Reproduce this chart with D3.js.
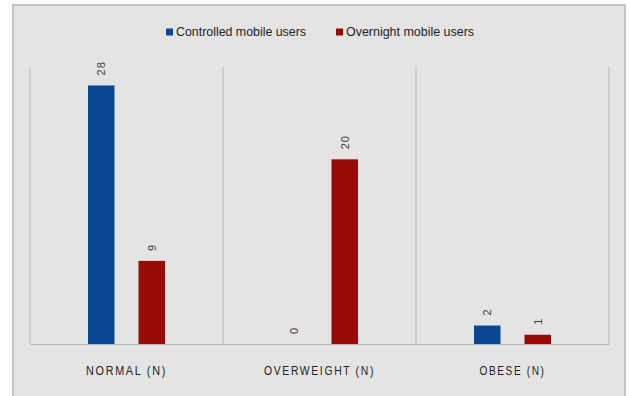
<!DOCTYPE html>
<html>
<head>
<meta charset="utf-8">
<script src="https://cdn.jsdelivr.net/npm/d3@7"></script>
<style>
  html, body { margin: 0; padding: 0; background: #ffffff; }
  svg { display: block; }
</style>
</head>
<body>
<svg id="chart" width="630" height="396"></svg>
<script>
// Weight categories and mobile-use groups
const categories = ["NORMAL (N)", "OVERWEIGHT (N)", "OBESE (N)"];
const seriesNames = ["Controlled mobile users", "Overnight mobile users"];
const controlled = [28, 0, 2];
const overnight = [9, 20, 1];
const seriesColors = ["#0b4790", "#980a05"];

const svg = d3.select("#chart");
const font = "'Liberation Sans Narrow', 'Liberation Sans', Arial, sans-serif";

// condensed look: squeeze text to a set width
const catWidths = { "NORMAL (N)": 81, "OVERWEIGHT (N)": 111, "OBESE (N)": 66 };
const legendWidths = [130, 128];

// panel frame
svg.append("rect")
  .attr("x", 13).attr("y", 5)
  .attr("width", 612).attr("height", 400)
  .attr("fill", "#e4e4e4")
  .attr("stroke", "#b4b4b4").attr("stroke-width", 1.5);

const plot = { left: 30, right: 609, top: 67, bottom: 344 };

const x0 = d3.scaleBand().domain(categories)
  .range([plot.left, plot.right]).paddingInner(0).paddingOuter(0);
const x1 = d3.scaleBand().domain(seriesNames)
  .range([0, 77]).paddingInner(0.475);
const y = d3.scaleLinear().domain([0, 30]).range([plot.bottom, plot.top]);

const rows = categories.map((c, i) => ({
  cat: c,
  vals: [
    { name: seriesNames[0], v: controlled[i], color: seriesColors[0] },
    { name: seriesNames[1], v: overnight[i], color: seriesColors[1] }
  ]
}));

// left axis line and category separators
const sepX = [plot.left, ...categories.map(c => x0(c) + x0.bandwidth())];
svg.append("g").selectAll("line").data(sepX).join("line")
  .attr("x1", d => d).attr("x2", d => d)
  .attr("y1", plot.top).attr("y2", plot.bottom)
  .attr("stroke", "#c2c2c2").attr("stroke-width", 1.2);

// baseline via bottom axis
const xAxis = d3.axisBottom(x0).tickSize(0).tickPadding(0);
const gx = svg.append("g").attr("transform", `translate(0,${plot.bottom})`).call(xAxis);
gx.select(".domain").attr("stroke", "#b8b8b8").attr("stroke-width", 1.2);
gx.selectAll(".tick text")
  .attr("y", 31)
  .attr("dy", 0)
  .attr("font-family", font)
  .attr("font-size", 12.5)
  .attr("letter-spacing", "2px")
  .attr("textLength", d => catWidths[d])
  .attr("lengthAdjust", "spacingAndGlyphs")
  .attr("fill", "#222");

// bars
const groups = svg.append("g").selectAll("g").data(rows).join("g")
  .attr("transform", d => `translate(${x0(d.cat) + (x0.bandwidth() - 77) / 2},0)`);

groups.selectAll("rect").data(d => d.vals).join("rect")
  .attr("x", d => x1(d.name))
  .attr("width", x1.bandwidth())
  .attr("y", d => y(d.v))
  .attr("height", d => y(0) - y(d.v))
  .attr("fill", d => d.color);

// rotated value labels
groups.selectAll("text").data(d => d.vals).join("text")
  .attr("transform", d => `translate(${x1(d.name) + x1.bandwidth() / 2 + 4},${y(d.v) - 10}) rotate(-90)`)
  .attr("text-anchor", "start")
  .attr("font-family", font)
  .attr("font-size", 11)
  .attr("letter-spacing", "1px")
  .attr("fill", "#404040")
  .text(d => d.v);

// legend
const legendX = [166, 336];
const legend = svg.append("g").selectAll("g").data(seriesNames).join("g")
  .attr("transform", (d, i) => `translate(${legendX[i]},26)`);
legend.append("rect")
  .attr("width", 7).attr("height", 7).attr("y", 2.5)
  .attr("fill", (d, i) => seriesColors[i]);
legend.append("text")
  .attr("x", 10).attr("y", 9.8)
  .attr("font-family", font)
  .attr("font-size", 13.5)
  .attr("textLength", (d, i) => legendWidths[i])
  .attr("lengthAdjust", "spacingAndGlyphs")
  .attr("fill", "#222")
  .text(d => d);
</script>
</body>
</html>
